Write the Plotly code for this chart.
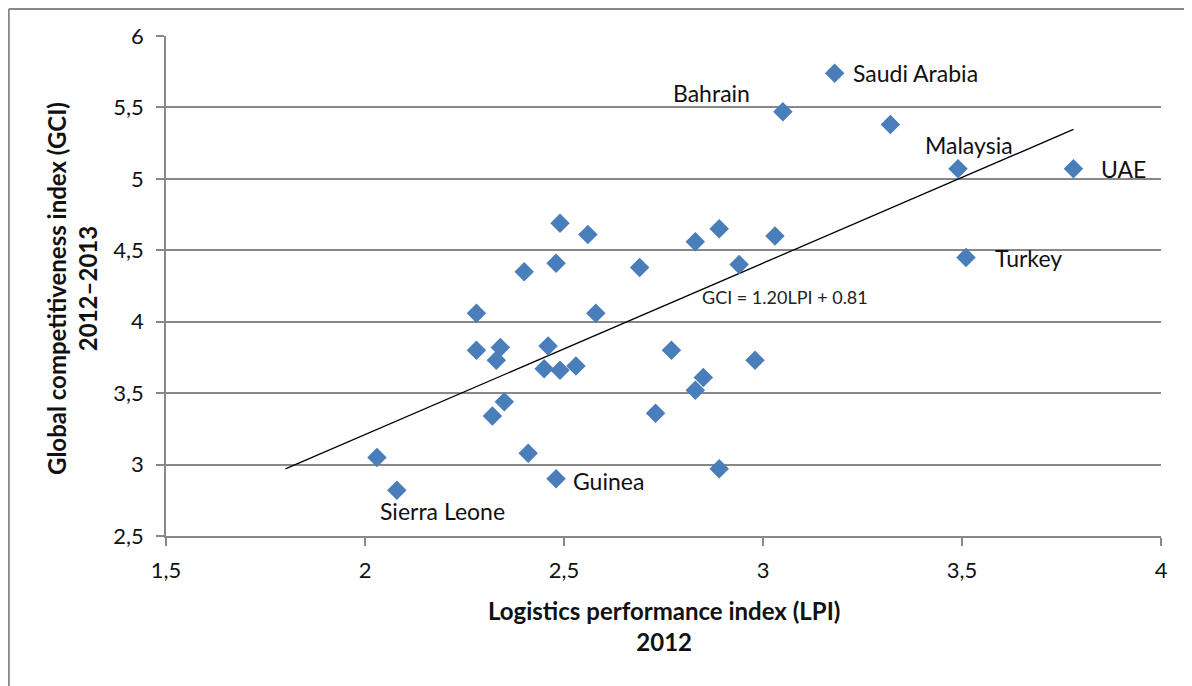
import plotly.graph_objects as go

# LPI 2012 (x) and GCI 2012-2013 (y)
lpi = [3.18, 3.05, 3.32, 3.49, 3.78, 3.51,
       2.49, 2.56, 2.40, 2.48, 2.69, 2.83, 2.89, 3.03, 2.94,
       2.28, 2.58, 2.28, 2.34, 2.33, 2.46, 2.45, 2.49, 2.53,
       2.35, 2.32, 2.03, 2.08, 2.41, 2.48,
       2.77, 2.98, 2.85, 2.83, 2.73, 2.89]
gci = [5.74, 5.47, 5.38, 5.07, 5.07, 4.45,
       4.69, 4.61, 4.35, 4.41, 4.38, 4.56, 4.65, 4.60, 4.40,
       4.06, 4.06, 3.80, 3.82, 3.73, 3.83, 3.67, 3.66, 3.69,
       3.44, 3.34, 3.05, 2.82, 3.08, 2.90,
       3.80, 3.73, 3.61, 3.52, 3.36, 2.97]

# labelled countries
label_names = ["Saudi Arabia", "Bahrain", "Malaysia", "UAE", "Turkey", "Guinea", "Sierra Leone"]
label_x = [3.18, 3.05, 3.49, 3.78, 3.51, 2.48, 2.08]
label_y = [5.74, 5.47, 5.07, 5.07, 4.45, 2.90, 2.82]

# trend line GCI = 1.20 LPI + 0.81
slope = 1.20
intercept = 0.81
trend_x = [1.80, 3.78]
trend_y = [slope * v + intercept for v in trend_x]

x_ticks = [1.5, 2, 2.5, 3, 3.5, 4]
y_ticks = [2.5, 3, 3.5, 4, 4.5, 5, 5.5, 6]

FONT = "Lato"
fig = go.Figure()
fig.add_trace(go.Scatter(x=trend_x, y=trend_y, mode="lines",
                         line=dict(color="black", width=1.3), hoverinfo="skip"))
fig.add_trace(go.Scatter(x=lpi, y=gci, mode="markers",
                         marker=dict(symbol="diamond", size=15, color="#4A7EBB"),
                         hoverinfo="x+y"))

# label offsets (px) per country
offsets = {
    "Saudi Arabia": (16, 0, "left"),
    "Bahrain": (-71, -19, "center"),
    "Malaysia": (11, -24, "center"),
    "UAE": (26, 0, "left"),
    "Turkey": (27, 1, "left"),
    "Guinea": (15, 2, "left"),
    "Sierra Leone": (46, 21, "center"),
}
for name, x, y in zip(label_names, label_x, label_y):
    dx, dy, anc = offsets[name]
    fig.add_annotation(x=x, y=y, text=name, showarrow=False, xanchor=anc,
                       xshift=dx, yshift=-dy, font=dict(family=FONT, size=23, color="#111"))

fig.add_annotation(x=3.055, y=4.17, text="GCI = 1.20LPI + 0.81", showarrow=False,
                   font=dict(family=FONT, size=18, color="#222"))

# axis titles
fig.add_annotation(xref="paper", yref="paper", x=-0.0945, y=0.496,
                   xanchor="center", yanchor="middle",
                   text="<b>Global competitiveness index (GCI)<br>2012–2013</b>",
                   textangle=-90, showarrow=False,
                   font=dict(family=FONT, size=24, color="#111"))
fig.add_annotation(xref="paper", yref="paper", x=0.5005, y=-0.18,
                   xanchor="center", yanchor="middle",
                   text="<b>Logistics performance index (LPI)<br>2012</b>",
                   showarrow=False, font=dict(family=FONT, size=24, color="#111"))

# outer chart border (left and top)
fig.add_shape(type="line", xref="paper", yref="paper", x0=-0.158, x1=1.1, y0=1.054, y1=1.054,
              line=dict(color="#888", width=2))
fig.add_shape(type="line", xref="paper", yref="paper", x0=-0.158, x1=-0.158, y0=-0.4, y1=1.054,
              line=dict(color="#888", width=2))

fig.update_layout(
    width=1184, height=678,
    margin=dict(l=158, r=31, t=28, b=150),
    paper_bgcolor="white", plot_bgcolor="white",
    showlegend=False,
    separators=", ",
    font=dict(family=FONT, size=22, color="#111"),
    xaxis=dict(range=[1.5, 4], tickvals=x_ticks, showgrid=False, zeroline=False,
               showline=True, linecolor="#888", linewidth=1.5,
               ticks="outside", ticklen=8, tickcolor="#888", tickwidth=1.5,
               ticklabelstandoff=6,
               tickfont=dict(family=FONT, size=22)),
    yaxis=dict(range=[2.5, 6], tickvals=y_ticks, showgrid=True, gridcolor="#888",
               gridwidth=1.5, zeroline=False,
               showline=True, linecolor="#888", linewidth=1.5,
               ticks="outside", ticklen=8, tickcolor="#888", tickwidth=1.5,
               ticklabelstandoff=8,
               tickfont=dict(family=FONT, size=22)),
)

fig.write_html("out.html")
